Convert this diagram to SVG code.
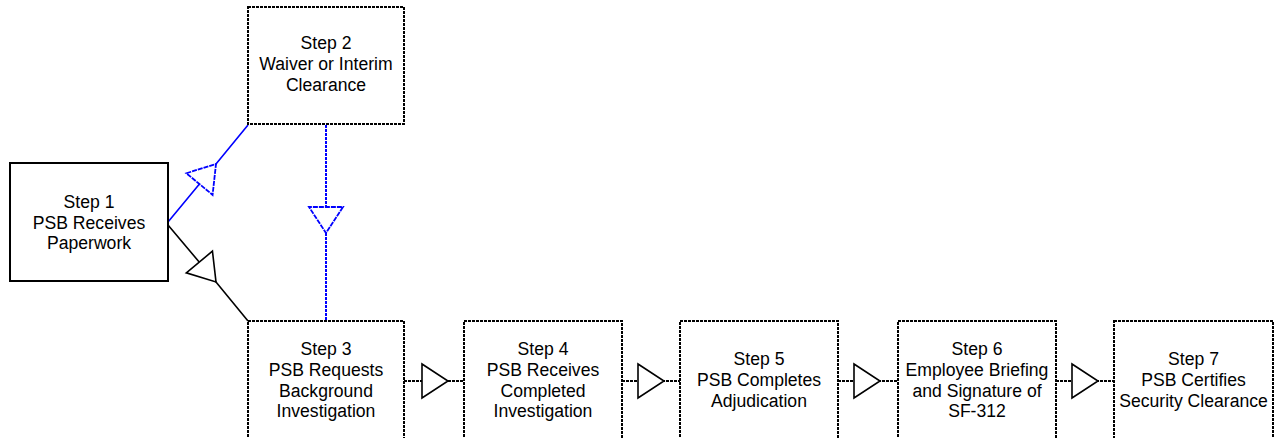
<svg xmlns="http://www.w3.org/2000/svg" width="1280" height="438" viewBox="0 0 1280 438">
<style>
.box{fill:#fff;stroke:#000;stroke-width:2;stroke-dasharray:3 1}
.solidbox{fill:#fff;stroke:#000;stroke-width:2}
.t{font-family:"Liberation Sans",Arial,sans-serif;font-size:17.6px;fill:#000;text-anchor:middle}
.cb{fill:none;stroke:#000;stroke-width:1.6}
.cbd{fill:none;stroke:#000;stroke-width:2;stroke-dasharray:3 1}
.cu{fill:none;stroke:#0000ff;stroke-width:1.6}
.cud{fill:none;stroke:#0000ff;stroke-width:2;stroke-dasharray:3 1}
</style>
<defs>
<marker id="ab" markerUnits="userSpaceOnUse" viewBox="-30 -20 32 40" refX="0" refY="0" markerWidth="32" markerHeight="40" orient="auto" overflow="visible">
<path d="M-26,-17 L0,0 L-26,17 Z" fill="#fff" stroke="#000" stroke-width="1.6"/>
</marker>
<marker id="au" markerUnits="userSpaceOnUse" viewBox="-30 -20 32 40" refX="0" refY="0" markerWidth="32" markerHeight="40" orient="auto" overflow="visible">
<path d="M-26,-17 L0,0 L-26,17 Z" fill="#fff" stroke="#0000ff" stroke-width="1.8" stroke-dasharray="5 1"/>
</marker>
</defs>
<g id="connectors">
<path class="cu" d="M168,222 L216,164 L248,125" marker-mid="url(#au)"/>
<path class="cb" d="M168,225 L216,282 L248,321" marker-mid="url(#ab)"/>
<path class="cud" d="M326,125 L326,233 L326,321" marker-mid="url(#au)"/>
<path class="cbd" d="M404,381 L448,381 L464,381" marker-mid="url(#ab)"/>
<path class="cbd" d="M622,381 L664,381 L680,381" marker-mid="url(#ab)"/>
<path class="cbd" d="M838,381 L880,381 L898,381" marker-mid="url(#ab)"/>
<path class="cbd" d="M1056,381 L1098,381 L1114,381" marker-mid="url(#ab)"/>
</g>
<g id="step1">
<rect class="solidbox" x="10" y="163" width="158" height="118"/>
<text class="t" x="89" y="208">Step 1</text>
<text class="t" x="89" y="229">PSB Receives</text>
<text class="t" x="89" y="249">Paperwork</text>
</g>
<g id="step2">
<rect class="box" x="248" y="7" width="156" height="117"/>
<text class="t" x="326" y="49">Step 2</text>
<text class="t" x="326" y="70">Waiver or Interim</text>
<text class="t" x="326" y="91">Clearance</text>
</g>
<g id="step3">
<rect class="box" x="248" y="321" width="156" height="140"/>
<text class="t" x="326" y="355">Step 3</text>
<text class="t" x="326" y="376">PSB Requests</text>
<text class="t" x="326" y="397">Background</text>
<text class="t" x="326" y="417">Investigation</text>
</g>
<g id="step4">
<rect class="box" x="464" y="321" width="158" height="140"/>
<text class="t" x="543" y="355">Step 4</text>
<text class="t" x="543" y="376">PSB Receives</text>
<text class="t" x="543" y="397">Completed</text>
<text class="t" x="543" y="417">Investigation</text>
</g>
<g id="step5">
<rect class="box" x="680" y="321" width="158" height="140"/>
<text class="t" x="759" y="365">Step 5</text>
<text class="t" x="759" y="386">PSB Completes</text>
<text class="t" x="759" y="407">Adjudication</text>
</g>
<g id="step6">
<rect class="box" x="898" y="321" width="158" height="140"/>
<text class="t" x="977" y="355">Step 6</text>
<text class="t" x="977" y="376">Employee Briefing</text>
<text class="t" x="977" y="397">and Signature of</text>
<text class="t" x="977" y="417">SF-312</text>
</g>
<g id="step7">
<rect class="box" x="1114" y="321" width="159" height="140"/>
<text class="t" x="1193.5" y="365">Step 7</text>
<text class="t" x="1193.5" y="386">PSB Certifies</text>
<text class="t" x="1193.5" y="407">Security Clearance</text>
</g>
</svg>
